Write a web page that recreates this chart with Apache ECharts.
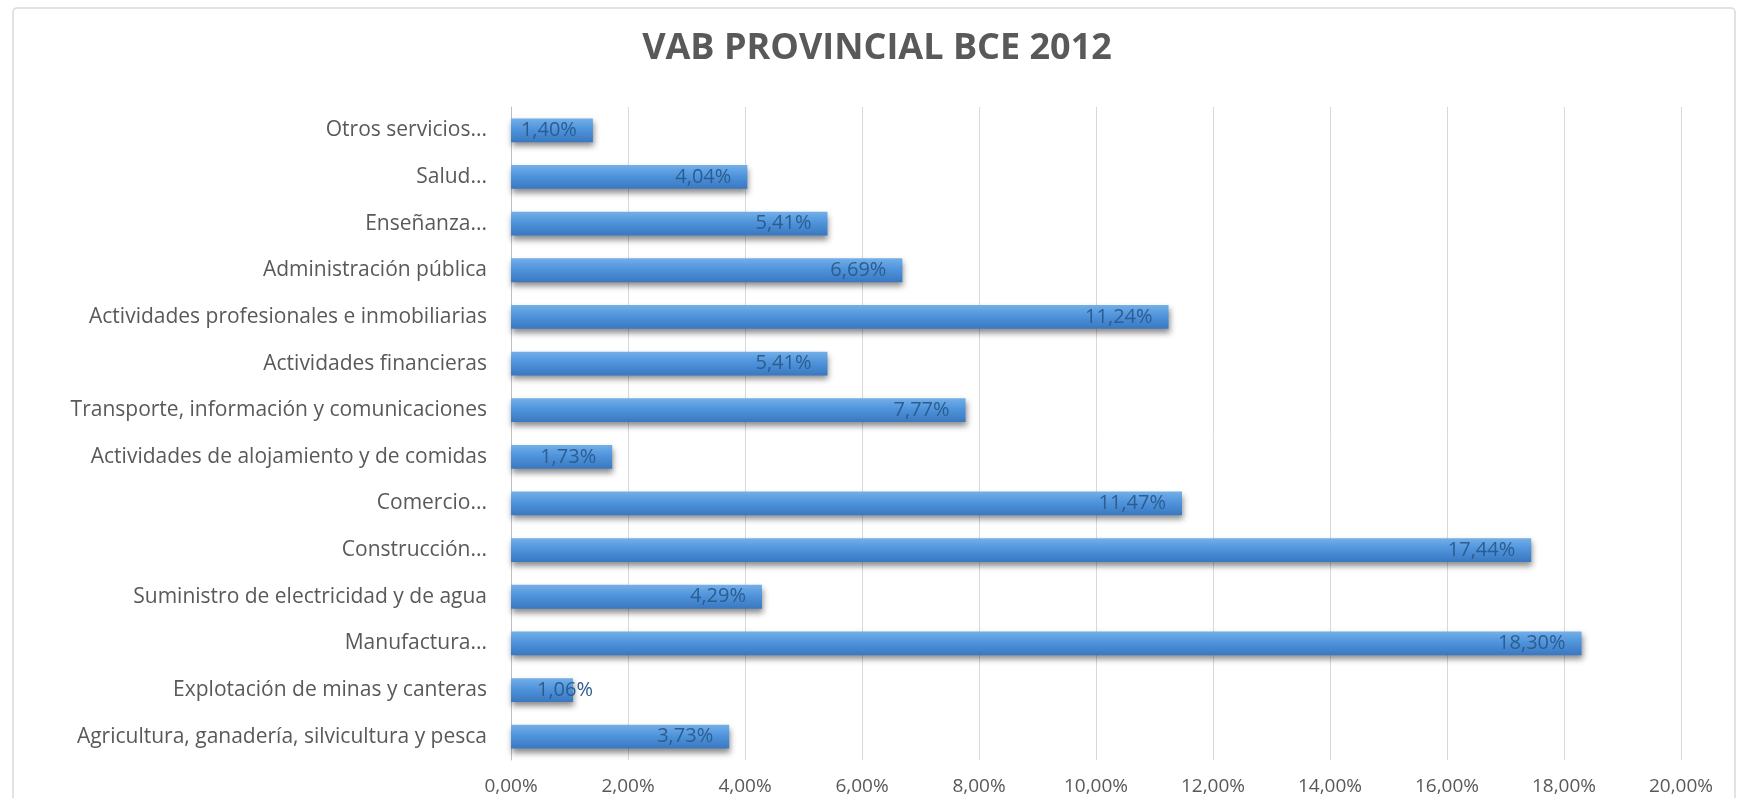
<!DOCTYPE html>
<html>
<head>
<meta charset="utf-8">
<script src="https://cdn.jsdelivr.net/npm/echarts@6/dist/echarts.min.js"></script>
<style>
html,body{margin:0;padding:0;background:#fff;}
#main{width:1738px;height:798px;}
</style>
</head>
<body>
<div id="main"></div>
<script>
const categories = [
  "Agricultura, ganadería, silvicultura y pesca",
  "Explotación de minas y canteras",
  "Manufactura...",
  "Suministro de electricidad y de agua",
  "Construcción...",
  "Comercio...",
  "Actividades de alojamiento y de comidas",
  "Transporte, información y comunicaciones",
  "Actividades financieras",
  "Actividades profesionales e inmobiliarias",
  "Administración pública",
  "Enseñanza...",
  "Salud...",
  "Otros servicios..."
];
const values = [3.73, 1.06, 18.30, 4.29, 17.44, 11.47, 1.73, 7.77, 5.41, 11.24, 6.69, 5.41, 4.04, 1.40];
const titleText = "VAB PROVINCIAL BCE 2012";

const fmt = v => v.toFixed(2).replace('.', ',') + '%';
// bars too short for their label get it pushed past the end, as in the reference
const barData = values.map(v => v < 1.2
  ? {value: v, label: {position: 'insideLeft', distance: 26}}
  : v);

const chart = echarts.init(document.getElementById('main'));
chart.setOption({
  animation: false,
  backgroundColor: '#fff',
  graphic: [{
    type: 'rect',
    shape: {x: 13, y: 8, width: 1722, height: 800, r: 4},
    style: {fill: 'none', stroke: '#d9d9d9', lineWidth: 1.5},
    silent: true, z: -1
  }],
  title: {
    text: titleText,
    left: 872, top: 26, textAlign: 'center',
    textStyle: {fontFamily: 'Open Sans', fontSize: 36, fontWeight: 'bold', color: '#595959'}
  },
  grid: {left: 511, right: 57, top: 107, bottom: 38, containLabel: false},
  xAxis: {
    type: 'value', min: 0, max: 20, interval: 2,
    axisLine: {show: false}, axisTick: {show: false},
    splitLine: {lineStyle: {color: '#d9d9d9', width: 1}},
    axisLabel: {
      formatter: v => fmt(v), margin: 17,
      fontFamily: 'Open Sans', fontSize: 19, color: '#595959'
    }
  },
  yAxis: {
    type: 'category', data: categories,
    axisLine: {lineStyle: {color: '#bfbfbf'}}, axisTick: {show: false},
    axisLabel: {fontFamily: 'Open Sans', fontSize: 21, color: '#595959', margin: 24}
  },
  series: [{
    type: 'bar', data: barData, barCategoryGap: '49%',
    itemStyle: {
      color: new echarts.graphic.LinearGradient(0, 0, 0, 1, [
        {offset: 0, color: '#74afe8'},
        {offset: 0.45, color: '#4f94dc'},
        {offset: 1, color: '#3a78c0'}
      ]),
      shadowColor: 'rgba(0,0,0,0.45)', shadowBlur: 6, shadowOffsetX: 1, shadowOffsetY: 4
    },
    label: {
      show: true, position: 'insideRight', distance: 16,
      formatter: p => fmt(p.value),
      fontFamily: 'Open Sans', fontSize: 20, color: '#2b5d91'
    }
  }]
});
</script>
</body>
</html>
